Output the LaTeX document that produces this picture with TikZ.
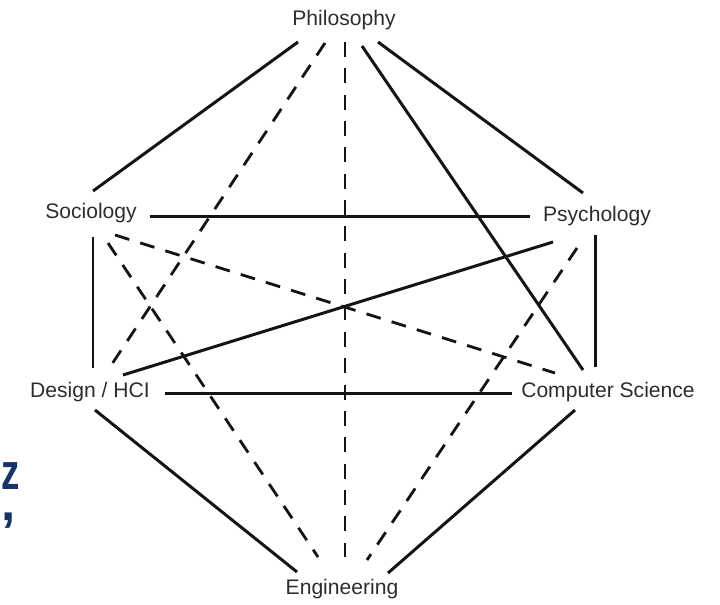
\documentclass[tikz,border=0pt]{standalone}
\usepackage{fontspec}
\setmainfont{Liberation Sans}
\usepackage{xcolor}
\definecolor{labelgray}{RGB}{45,45,45}
\definecolor{edgeblack}{RGB}{20,20,20}
\definecolor{navyblue}{RGB}{22,52,104}

\begin{document}
\begin{tikzpicture}[x=0.02cm, y=-0.02cm,
    field/.style={inner sep=0pt, text=labelgray, font=\fontsize{12}{14}\selectfont},
    solidlink/.style={line width=1.7pt, draw=edgeblack},
    dashedlink/.style={line width=1.6pt, draw=edgeblack, dash pattern=on 8.5pt off 6.5pt},
    cutmark/.style={inner sep=0pt, text=navyblue, font=\fontsize{29}{32}\selectfont\bfseries}]
    \useasboundingbox (0,0) rectangle (720,605);

    % disciplines
    \node[field] (phil) at (344,20) {Philosophy};
    \node[field] (soc) at (91,213) {Sociology};
    \node[field] (psy) at (597,216) {Psychology};
    \node[field] (dhci) at (90,392) {Design / HCI};
    \node[field] (cs) at (608,392) {Computer Science};
    \node[field] (eng) at (342,589) {Engineering};

    % links from philosophy
    \draw[solidlink] ([shift={(-46,22)}]phil.center) -- ([shift={(2,-22)}]soc.center);
    \draw[solidlink] ([shift={(34,22)}]phil.center) -- ([shift={(-14,-23)}]psy.center);
    \draw[dashedlink] ([shift={(1,22)}]phil.center) -- ([shift={(3,-32)}]eng.center);
    \draw[dashedlink] ([shift={(-19,23)}]phil.center) -- ([shift={(18,-22)}]dhci.center);
    \draw[solidlink] ([shift={(18,26)}]phil.center) -- ([shift={(-25,-22)}]cs.center);

    % links from sociology
    \draw[solidlink] ([shift={(59,3.5)}]soc.center) -- ([shift={(-67,0.5)}]psy.center);
    \draw[solidlink] ([shift={(2,24)}]soc.center) -- ([shift={(3,-24)}]dhci.center);
    \draw[dashedlink] ([shift={(24,22)}]soc.center) -- ([shift={(-53,-19)}]cs.center);
    \draw[dashedlink] ([shift={(17,30)}]soc.center) -- ([shift={(-24,-32)}]eng.center);

    % links from psychology
    \draw[solidlink] ([shift={(-44,26)}]psy.center) -- ([shift={(33,-17)}]dhci.center);
    \draw[solidlink] ([shift={(-2,19)}]psy.center) -- ([shift={(-13,-25)}]cs.center);
    \draw[dashedlink] ([shift={(-20,32)}]psy.center) -- ([shift={(25,-29)}]eng.center);

    % bottom half
    \draw[solidlink] ([shift={(75,1.5)}]dhci.center) -- ([shift={(-96,1.5)}]cs.center);
    \draw[solidlink] ([shift={(5,18)}]dhci.center) -- ([shift={(-45,-17)}]eng.center);
    \draw[solidlink] ([shift={(-33,18)}]cs.center) -- ([shift={(46,-16)}]eng.center);

    % letters at the left edge
    \node[cutmark, xscale=0.72, anchor=south west] (zmark) at (1,490) {z};
    \node[cutmark, anchor=north west] (commamark) at (1,513) {,};
\end{tikzpicture}
\end{document}
